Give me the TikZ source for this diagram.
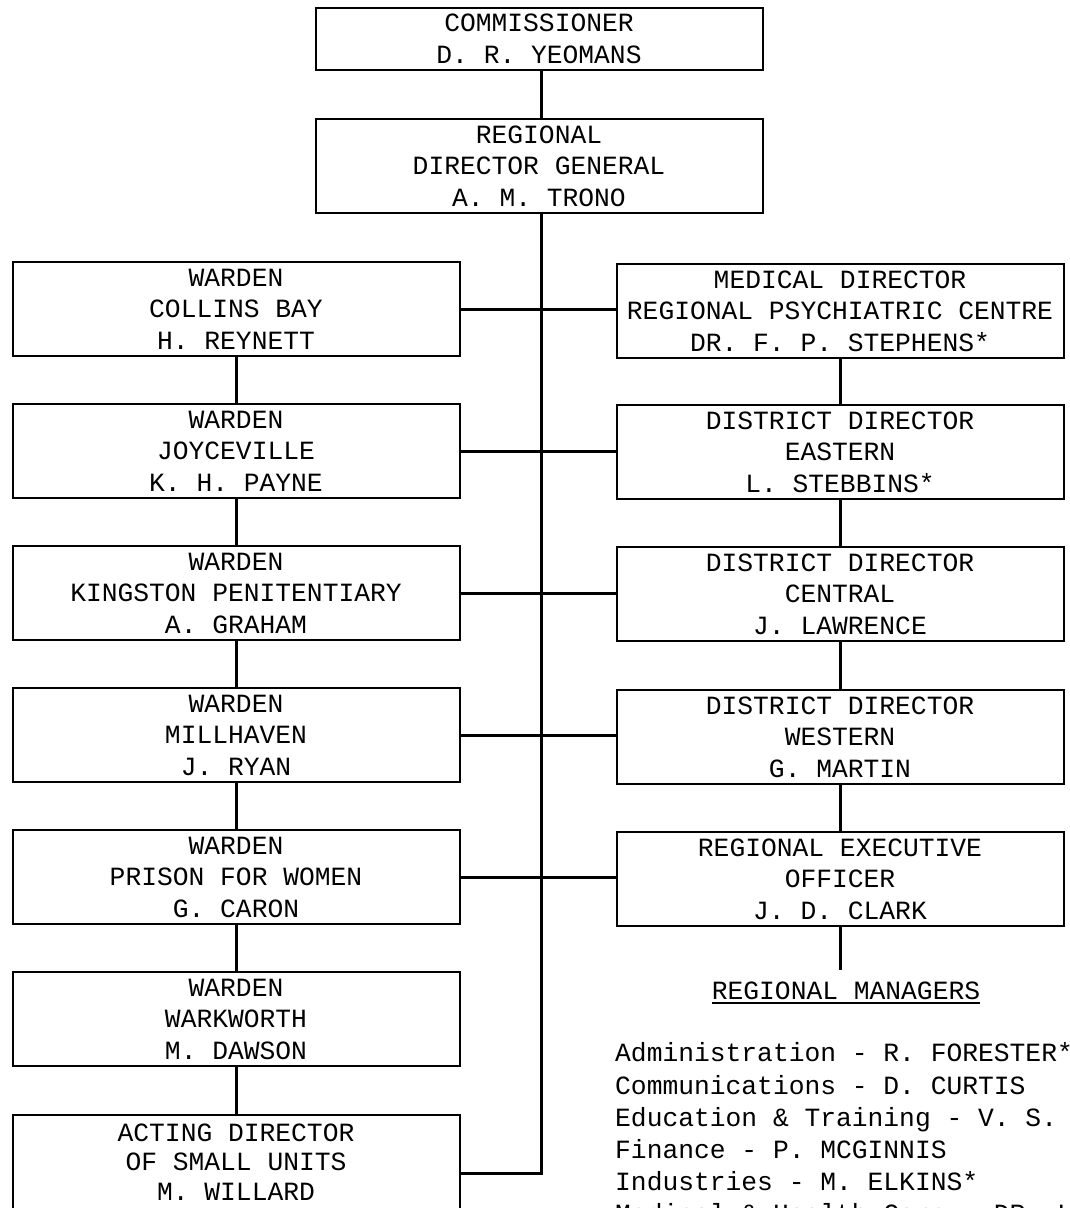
\documentclass[tikz,border=0pt]{standalone}
\usepackage{fontspec}
\setmainfont{Liberation Mono}
\usepackage{tikz}
\usetikzlibrary{calc}
\tikzset{post/.style={draw, line width=2pt, minimum width=447pt, minimum height=94pt, inner sep=0pt, align=center}}
\tikzset{link/.style={line width=3pt}}
\newcommand{\postbox}[4]{\node[post] (#1) at ( #2 , #3 ) {#4};}
\newcommand{\mgrline}[3]{\node[anchor=base west, inner sep=0pt] (#1) at ( 615 , #2 ) {#3};}

\begin{document}
\begin{tikzpicture}[x=1pt, y=-1pt, font=\fontsize{26.3}{31.5}\selectfont]
        \useasboundingbox (0,0) rectangle (1070,1208);
        % top
        \node[post, minimum height=62pt] (comm) at (539,39) {COMMISSIONER\\D. R. YEOMANS};
        \postbox{rdg}{539}{166}{REGIONAL\\DIRECTOR GENERAL\\A. M. TRONO}
        % left column
        \postbox{collins}{236}{309}{WARDEN\\COLLINS BAY\\H. REYNETT}
        \postbox{joyce}{236}{451}{WARDEN\\JOYCEVILLE\\K. H. PAYNE}
        \postbox{kingston}{236}{593}{WARDEN\\KINGSTON PENITENTIARY\\A. GRAHAM}
        \postbox{millhaven}{236}{735}{WARDEN\\MILLHAVEN\\J. RYAN}
        \postbox{women}{236}{877}{WARDEN\\PRISON FOR WOMEN\\G. CARON}
        \postbox{warkworth}{236}{1019}{WARDEN\\WARKWORTH\\M. DAWSON}
        \node[post, font=\fontsize{26.3}{29.5}\selectfont] (acting) at (236,1162) {ACTING DIRECTOR\\OF SMALL UNITS\\M. WILLARD};
        % right column
        \postbox{medical}{840}{311}{MEDICAL DIRECTOR\\REGIONAL PSYCHIATRIC CENTRE\\DR. F. P. STEPHENS*}
        \postbox{eastern}{840}{452}{DISTRICT DIRECTOR\\EASTERN\\L. STEBBINS*}
        \postbox{central}{840}{594}{DISTRICT DIRECTOR\\CENTRAL\\J. LAWRENCE}
        \postbox{western}{840}{737}{DISTRICT DIRECTOR\\WESTERN\\G. MARTIN}
        \postbox{regexec}{840}{879}{REGIONAL EXECUTIVE\\OFFICER\\J. D. CLARK}
        % regional managers
        \node[inner xsep=0pt, inner ysep=3.5pt, anchor=base] (mgrtitle) at (846,999.5) {REGIONAL MANAGERS};
        \draw[line width=2pt] (mgrtitle.south west) -- (mgrtitle.south east);
        \mgrline{mgra}{1061}{Administration - R. FORESTER*}
        \mgrline{mgrb}{1094}{Communications - D. CURTIS}
        \mgrline{mgrc}{1126}{Education \& Training - V. S.}
        \mgrline{mgrd}{1158}{Finance - P. MCGINNIS}
        \mgrline{mgre}{1190}{Industries - M. ELKINS*}
        \mgrline{mgrf}{1222}{Medical \& Health Care - DR. L}

        % trunk
        \coordinate (trunkend) at (541,1173);
        \coordinate (regend) at (840,970);
        \draw[link] (comm.south -| 541,0) -- (rdg.north -| 541,0);
        \draw[link] (rdg.south -| 541,0) -- (trunkend) -- (trunkend -| acting.east);
        % cross links
        \draw[link] (collins.east) -- (collins.east -| medical.west);
        \draw[link] (joyce.east) -- (joyce.east -| eastern.west);
        \draw[link] (kingston.east) -- (kingston.east -| central.west);
        \draw[link] (millhaven.east) -- (millhaven.east -| western.west);
        \draw[link] (women.east) -- (women.east -| regexec.west);
        % left chain
        \draw[link] (collins) -- (joyce);
        \draw[link] (joyce) -- (kingston);
        \draw[link] (kingston) -- (millhaven);
        \draw[link] (millhaven) -- (women);
        \draw[link] (women) -- (warkworth);
        \draw[link] (warkworth) -- (acting);
        % right chain
        \draw[link] (medical) -- (eastern);
        \draw[link] (eastern) -- (central);
        \draw[link] (central) -- (western);
        \draw[link] (western) -- (regexec);
        \draw[link] (regexec.south) -- (regend);
\end{tikzpicture}
\end{document}
